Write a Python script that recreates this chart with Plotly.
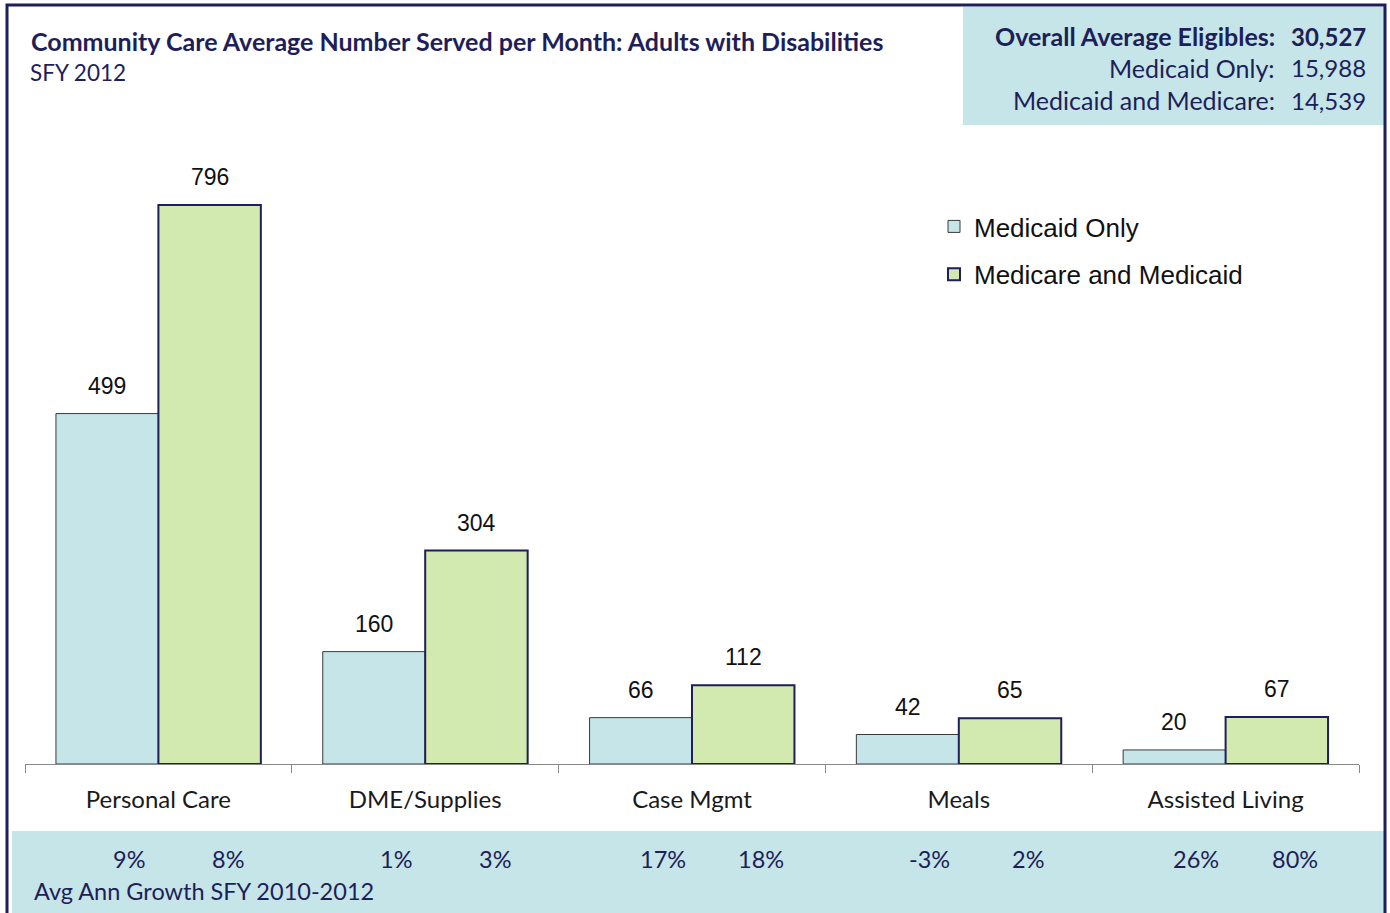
import plotly.graph_objects as go

categories = ["Personal Care", "DME/Supplies", "Case Mgmt", "Meals", "Assisted Living"]
medicaid_only = [499, 160, 66, 42, 20]
medicare_medicaid = [796, 304, 112, 65, 67]
growth_medicaid_only = ["9%", "1%", "17%", "-3%", "26%"]
growth_medicare_medicaid = ["8%", "3%", "18%", "2%", "80%"]
elig_labels = ["Overall Average Eligibles:", "Medicaid Only:", "Medicaid and Medicare:"]
elig_values = ["30,527", "15,988", "14,539"]

NAVY = "#1e1e58"
BLUE = "#c5e5e8"
GREEN = "#d2e9b0"
W, H = 1390, 913
L, R, T, B = 25, 31, 130, 149
PW, PH = W - L - R, H - T - B


def px(xp):
    return (xp - L) / PW


def py(yp):
    return (H - B - yp) / PH


BARGAP = 0.232
half = (1 - BARGAP) / 4

fig = go.Figure()
fig.add_trace(go.Bar(name="Medicaid Only", x=categories, y=medicaid_only,
                     marker=dict(color=BLUE, line=dict(color="#3a3a3a", width=1)),
                     legendgroup="a"))
fig.add_trace(go.Bar(name="Medicare and Medicaid", x=categories, y=medicare_medicaid,
                     marker=dict(color=GREEN, line=dict(color=NAVY, width=2)),
                     legendgroup="b"))

ann = []
for i, c in enumerate(categories):
    for off, val in ((-half, medicaid_only[i]), (half, medicare_medicaid[i])):
        ann.append(dict(x=i + off, y=val, xref="x", yref="y", text=str(val), showarrow=False,
                        yanchor="middle", yshift=28,
                        font=dict(family="Liberation Sans, Arial", size=23, color="#111111")))
    for off, txt in ((-0.11, growth_medicaid_only[i]), (0.26, growth_medicare_medicaid[i])):
        ann.append(dict(x=i + off, y=py(859), xref="x", yref="paper", text=txt, showarrow=False,
                        yanchor="middle", font=dict(family="Lato", size=23.5, color=NAVY)))

ann.append(dict(x=px(32), y=py(891), xref="paper", yref="paper", xanchor="left", yanchor="middle",
                text="Avg Ann Growth SFY 2010-2012", showarrow=False,
                font=dict(family="Lato", size=23.5, color=NAVY)))
ann.append(dict(x=px(29), y=py(41), xref="paper", yref="paper", xanchor="left", yanchor="middle",
                text="<b>Community Care Average Number Served per Month: Adults with Disabilities</b>",
                showarrow=False, font=dict(family="Lato", size=25, color=NAVY)))
ann.append(dict(x=px(28), y=py(73), xref="paper", yref="paper", xanchor="left", yanchor="middle",
                text="SFY 2012", showarrow=False, font=dict(family="Lato", size=22.5, color=NAVY)))

for k, (lab, val) in enumerate(zip(elig_labels, elig_values)):
    yy = py(36 + 32 * k)
    lt = f"<b>{lab}</b>" if k == 0 else lab
    vt = f"<b>{val}</b>" if k == 0 else val
    ann.append(dict(x=px(1277), y=yy, xref="paper", yref="paper", xanchor="right", yanchor="middle",
                    text=lt, showarrow=False, font=dict(family="Lato", size=25, color=NAVY)))
    ann.append(dict(x=px(1368), y=yy, xref="paper", yref="paper", xanchor="right", yanchor="middle",
                    text=vt, showarrow=False, font=dict(family="Lato", size=24, color=NAVY)))

shapes = [
    dict(type="rect", xref="paper", yref="paper", x0=px(963), x1=px(1384), y0=py(125), y1=py(7),
         fillcolor=BLUE, line=dict(width=0), layer="below"),
    dict(type="rect", xref="paper", yref="paper", x0=px(12), x1=px(1384), y0=py(925), y1=py(831),
         fillcolor=BLUE, line=dict(width=0), layer="below"),
    dict(type="rect", xref="paper", yref="paper", x0=px(7), x1=px(1385), y0=py(930), y1=py(5),
         fillcolor="rgba(0,0,0,0)", line=dict(color=NAVY, width=3), layer="above"),
]

ymax = PH / (559 / 796)

fig.update_layout(
    width=W, height=H, margin=dict(l=L, r=R, t=T, b=B),
    paper_bgcolor="white", plot_bgcolor="white",
    barmode="group", bargap=BARGAP, bargroupgap=0,
    annotations=ann, shapes=shapes,
    showlegend=True,
    legend=dict(x=px(934), y=py(203), xanchor="left", yanchor="top",
                font=dict(family="Liberation Sans, Arial", size=26, color="#111111"),
                bgcolor="rgba(0,0,0,0)", tracegroupgap=11, traceorder="grouped"),
    xaxis=dict(type="category", range=[-0.5, 4.5], showline=True, linecolor="#888888", linewidth=1,
               ticks="outside", tickson="boundaries", ticklen=8, tickcolor="#888888",
               showgrid=False, ticklabelstandoff=14,
               tickfont=dict(family="Lato", size=24, color="#1a1a1a")),
    yaxis=dict(range=[0, ymax], visible=False, showgrid=False, zeroline=False),
)

fig.write_html("out.html", config={"displayModeBar": False},
               post_script="document.body.style.margin='0';")
